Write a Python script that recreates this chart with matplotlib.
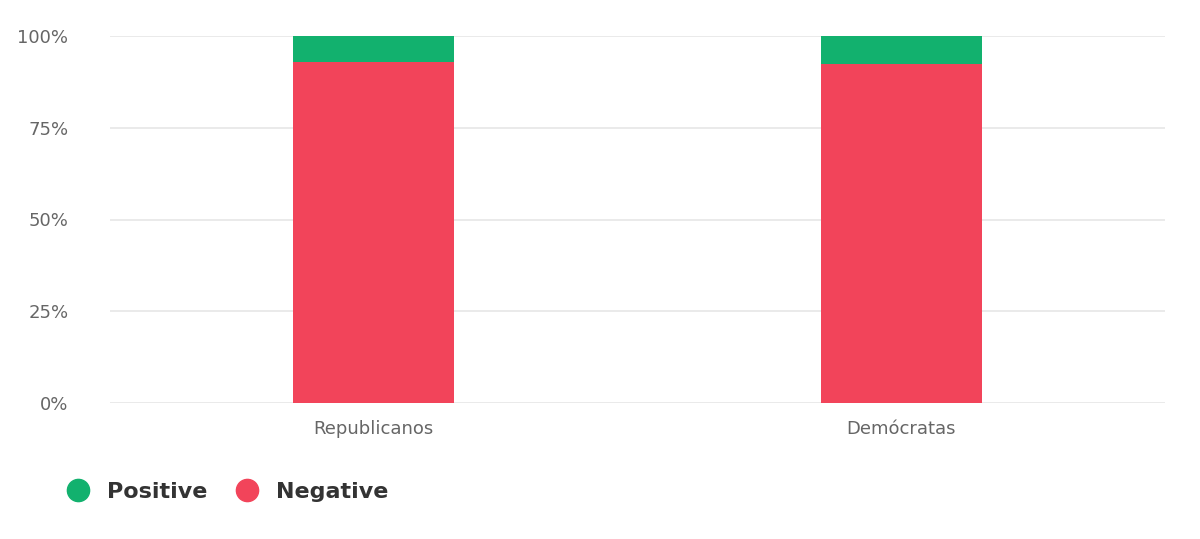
import matplotlib.pyplot as plt
from matplotlib.lines import Line2D

categories = ['Republicanos', 'Demócratas']
negative = [92.9, 92.4]
positive = [7.1, 7.6]
yticks = [0, 25, 50, 75, 100]

GREEN = '#12b16e'
RED = '#f2445a'

fig = plt.figure(figsize=(12, 5.39), dpi=100)
ax = fig.add_axes([110 / 1200, 1 - 403 / 539, 1055 / 1200, 367 / 539])

x = range(len(categories))
ax.bar(x, negative, width=0.305, color=RED, zorder=3)
ax.bar(x, positive, bottom=negative, width=0.305, color=GREEN, zorder=3)

ax.set_xlim(-0.5, 1.5)
ax.set_ylim(0, 100)
ax.set_yticks(yticks)
ax.set_yticklabels([f'{t}%' for t in yticks])
ax.set_xticks(list(x))
ax.set_xticklabels(categories)
ax.tick_params(length=0, labelsize=13, colors='#666666')
ax.tick_params(axis='x', pad=12)
ax.tick_params(axis='y', pad=30)
ax.grid(axis='y', color='#e6e6e6', linewidth=1.2, zorder=0)
for s in ax.spines.values():
    s.set_visible(False)

handles = [
    Line2D([], [], marker='o', linestyle='', markersize=16, color=GREEN, label='Positive'),
    Line2D([], [], marker='o', linestyle='', markersize=16, color=RED, label='Negative'),
]
leg = fig.legend(handles=handles, loc='center left', bbox_to_anchor=(0.03, 1 - 492 / 539),
                 ncol=2, frameon=False, handletextpad=0.3, columnspacing=0.8,
                 prop={'weight': 'bold', 'size': 16})
for t in leg.get_texts():
    t.set_color('#333333')

fig.savefig('out.png')
